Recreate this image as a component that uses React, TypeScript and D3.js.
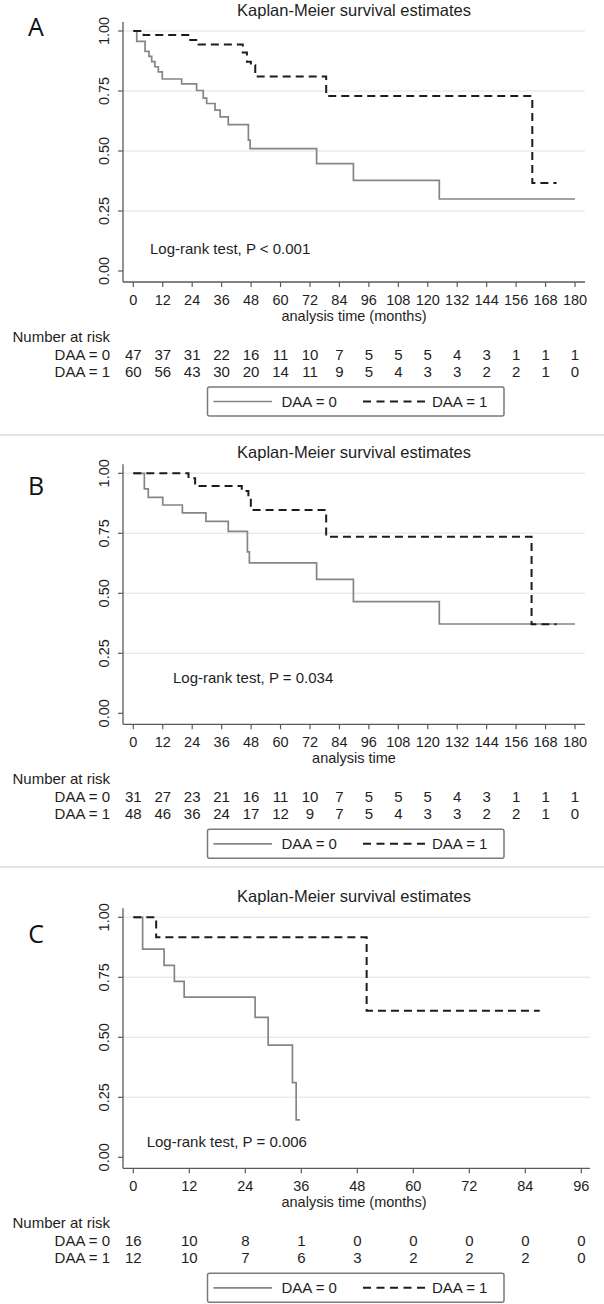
import React from 'react';
import * as d3 from 'd3';

// ---------- data ----------
const xTicksAB = [0, 12, 24, 36, 48, 60, 72, 84, 96, 108, 120, 132, 144, 156, 168, 180];
const xTicksC = [0, 12, 24, 36, 48, 60, 72, 84, 96];
const yTicks = [0, 0.25, 0.5, 0.75, 1];

// Panel A
const timeA0 = [0, 1.4, 4.8, 6.4, 7.5, 8.8, 10.2, 11.8, 19.7, 25.8, 28.5, 29.9, 33.3, 35.4, 38.7, 46.9, 47.6, 74.7, 89.7, 124.7, 180];
const survA0 = [1, 0.957, 0.915, 0.894, 0.872, 0.851, 0.83, 0.80, 0.78, 0.752, 0.72, 0.698, 0.67, 0.642, 0.61, 0.545, 0.51, 0.447, 0.378, 0.30, 0.30];
const timeA1 = [0, 4.2, 23.2, 26.6, 44.6, 46.3, 47.9, 49.7, 78.6, 162.6, 172.5];
const survA1 = [1, 0.983, 0.962, 0.944, 0.91, 0.872, 0.858, 0.81, 0.729, 0.367, 0.367];
const riskA0 = [47, 37, 31, 22, 16, 11, 10, 7, 5, 5, 5, 4, 3, 1, 1, 1];
const riskA1 = [60, 56, 43, 30, 20, 14, 11, 9, 5, 4, 3, 3, 2, 2, 1, 0];

// Panel B
const timeB0 = [0, 4.5, 6.1, 12, 20, 29.6, 38.7, 46.5, 47.3, 74.7, 89.7, 124.7, 180];
const survB0 = [1, 0.935, 0.90, 0.868, 0.835, 0.80, 0.758, 0.673, 0.627, 0.558, 0.465, 0.372, 0.372];
const timeB1 = [0, 22.5, 25.2, 44.2, 46.9, 47.9, 78.6, 162.3, 172.5];
const survB1 = [1, 0.979, 0.947, 0.926, 0.896, 0.847, 0.736, 0.371, 0.371];
const riskB0 = [31, 27, 23, 21, 16, 11, 10, 7, 5, 5, 5, 4, 3, 1, 1, 1];
const riskB1 = [48, 46, 36, 24, 17, 12, 9, 7, 5, 4, 3, 3, 2, 2, 1, 0];

// Panel C
const timeC0 = [0, 2.0, 6.6, 8.8, 10.9, 26.1, 28.9, 34.1, 34.9, 35.7];
const survC0 = [1, 0.867, 0.8, 0.733, 0.667, 0.583, 0.467, 0.311, 0.156, 0.156];
const timeC1 = [0, 4.9, 50, 87.1];
const survC1 = [1, 0.917, 0.611, 0.611];
const riskC0 = [16, 10, 8, 1, 0, 0, 0, 0, 0];
const riskC1 = [12, 10, 7, 6, 3, 2, 2, 2, 0];

const groupLabels = ['DAA = 0', 'DAA = 1'];
const titleText = 'Kaplan-Meier survival estimates';

// ---------- styles ----------
const FONT = '"Liberation Sans", Arial, sans-serif';
const SOLID = '#858585';
const DASH = '#1c1c1c';
const AXIS = '#5a5a5a';
const GRID = '#e6edf1';
const TEXT = '#1e1e1e';

type PanelProps = {
  letter: string;
  letterY: number;
  top: number;
  xMax: number;
  xTicks: number[];
  xEnd: number;
  axisRight: number;
  xLabel: string;
  logrank: string;
  lrX: number;
  lrDy: number;
  t0: number[]; s0: number[];
  t1: number[]; s1: number[];
  r0: number[]; r1: number[];
};

const Panel: React.FC<PanelProps> = (p) => {
  const x = d3.scaleLinear().domain([0, p.xMax]).range([133.3, p.xEnd]);
  const y = d3.scaleLinear().domain([0, 1]).range([p.top + 240, p.top]);
  const line = d3.line<[number, number]>()
    .x((d) => x(d[0]))
    .y((d) => y(d[1]))
    .curve(d3.curveStepAfter);
  const pts0 = p.t0.map((t, i) => [t, p.s0[i]] as [number, number]);
  const pts1 = p.t1.map((t, i) => [t, p.s1[i]] as [number, number]);
  const axisX = 123;
  const axisY = p.top + 251;
  const fmt = d3.format('.2f');
  const legTop = p.top + 356;
  const legL = 207.5, legR = 504;
  const legMid = legTop + 14.5;
  return (
    <g>
      <text x={36} y={p.letterY} fontFamily='"Open Sans", "Noto Sans", sans-serif' fontSize={25} fill="#111" textAnchor="middle" dominantBaseline="central">{p.letter}</text>
      <text x={354} y={p.top - 21.5} fontFamily={FONT} fontSize={16.5} fill={TEXT} textAnchor="middle" dominantBaseline="central">{titleText}</text>
      {yTicks.filter((v) => v > 0).map((v) => (
        <line key={'g' + v} x1={axisX} x2={p.axisRight} y1={y(v)} y2={y(v)} stroke={GRID} strokeWidth={1.4} />
      ))}
      <line x1={axisX} x2={axisX} y1={p.top - 9} y2={axisY} stroke={AXIS} strokeWidth={1.3} />
      <line x1={axisX} x2={p.axisRight} y1={axisY} y2={axisY} stroke={AXIS} strokeWidth={1.3} />
      {yTicks.map((v) => (
        <g key={'y' + v}>
          <line x1={axisX - 5} x2={axisX} y1={y(v)} y2={y(v)} stroke={AXIS} strokeWidth={1.2} />
          <text transform={`translate(104,${y(v)}) rotate(-90)`} fontFamily={FONT} fontSize={14.5} fill={TEXT} textAnchor="middle" dominantBaseline="central">{fmt(v)}</text>
        </g>
      ))}
      {p.xTicks.map((v) => (
        <g key={'x' + v}>
          <line x1={x(v)} x2={x(v)} y1={axisY} y2={axisY + 5} stroke={AXIS} strokeWidth={1.2} />
          <text x={x(v)} y={p.top + 269} fontFamily={FONT} fontSize={14.5} fill={TEXT} textAnchor="middle" dominantBaseline="central">{v}</text>
        </g>
      ))}
      <text x={354} y={p.top + 285} fontFamily={FONT} fontSize={14.5} fill={TEXT} textAnchor="middle" dominantBaseline="central">{p.xLabel}</text>
      <path d={line(pts0) || ''} fill="none" stroke={SOLID} strokeWidth={1.7} />
      <path d={line(pts1) || ''} fill="none" stroke={DASH} strokeWidth={2} strokeDasharray="8,5" />
      <text x={p.lrX} y={p.top + p.lrDy} fontFamily={FONT} fontSize={15} fill={TEXT} dominantBaseline="central">{p.logrank}</text>
      <text x={12.5} y={p.top + 305} fontFamily={FONT} fontSize={15} fill={TEXT} dominantBaseline="central">Number at risk</text>
      {[p.r0, p.r1].map((row, ri) => (
        <g key={'r' + ri}>
          <text x={110} y={p.top + (ri === 0 ? 323 : 340.5)} fontFamily={FONT} fontSize={15} fill={TEXT} textAnchor="end" dominantBaseline="central">{groupLabels[ri]}</text>
          {row.map((n, i) => (
            <text key={i} x={x(p.xTicks[i])} y={p.top + (ri === 0 ? 323 : 340.5)} fontFamily={FONT} fontSize={15} fill={TEXT} textAnchor="middle" dominantBaseline="central">{n}</text>
          ))}
        </g>
      ))}
      <rect x={legL} y={legTop} width={legR - legL} height={29} rx={2} fill="#fff" stroke="#7a7a7a" strokeWidth={1.5} />
      <line x1={213.5} x2={272} y1={legMid} y2={legMid} stroke={SOLID} strokeWidth={1.7} />
      <text x={281.5} y={legMid} fontFamily={FONT} fontSize={15} fill={TEXT} dominantBaseline="central">{groupLabels[0]}</text>
      <line x1={363} x2={425} y1={legMid} y2={legMid} stroke={DASH} strokeWidth={2} strokeDasharray="8,5.5" />
      <text x={432} y={legMid} fontFamily={FONT} fontSize={15} fill={TEXT} dominantBaseline="central">{groupLabels[1]}</text>
    </g>
  );
};

export default function App() {
  return (
    <svg width={604} height={1304} viewBox="0 0 604 1304" style={{ position: 'absolute', left: 0, top: 0, background: '#fff' }}>
      <rect x={0} y={0} width={604} height={1304} fill="#fff" />
      <line x1={0} x2={604} y1={435} y2={435} stroke="#e4e4e4" strokeWidth={2} />
      <line x1={0} x2={604} y1={867} y2={867} stroke="#e4e4e4" strokeWidth={2} />
      <Panel letter="A" letterY={26} top={31} xMax={180} xTicks={xTicksAB} xEnd={575} axisRight={585}
        xLabel="analysis time (months)" logrank="Log-rank test, P < 0.001" lrX={150} lrDy={217}
        t0={timeA0} s0={survA0} t1={timeA1} s1={survA1} r0={riskA0} r1={riskA1} />
      <Panel letter="B" letterY={485} top={473.3} xMax={180} xTicks={xTicksAB} xEnd={575} axisRight={585}
        xLabel="analysis time" logrank="Log-rank test, P = 0.034" lrX={173} lrDy={204}
        t0={timeB0} s0={survB0} t1={timeB1} s1={survB1} r0={riskB0} r1={riskB1} />
      <Panel letter="C" letterY={933} top={917.3} xMax={96} xTicks={xTicksC} xEnd={581.3} axisRight={590}
        xLabel="analysis time (months)" logrank="Log-rank test, P = 0.006" lrX={146.7} lrDy={224.4}
        t0={timeC0} s0={survC0} t1={timeC1} s1={survC1} r0={riskC0} r1={riskC1} />
    </svg>
  );
}
